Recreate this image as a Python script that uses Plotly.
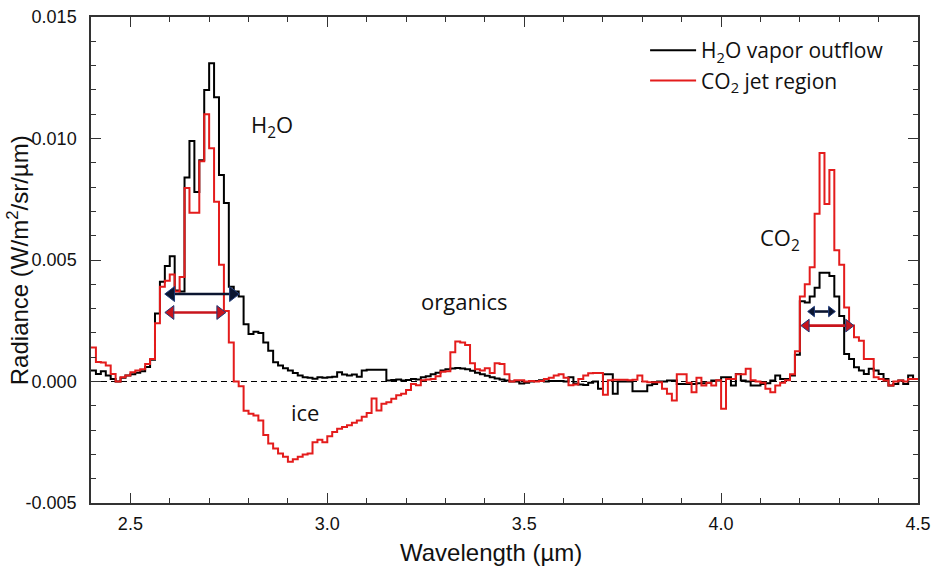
import plotly.graph_objects as go

# Channel grid (µm)
wavelength_start = 2.40
channel_width = 0.0125
n_channels = 168

# Radiance in units of 1e-3 W/m^2/sr/µm, one value per channel
h2o_outflow_milli = [
    0.45, 0.31, 0.42, 0.25, 0.10, 0.00, 0.15, 0.25, 0.30, 0.36,
    0.42, 0.60, 0.90, 2.80, 4.10, 4.75, 5.15, 3.75, 3.70, 8.40,
    9.90, 7.80, 9.10, 12.0, 13.1, 11.7, 8.50, 7.35, 3.90, 3.70,
    3.50, 2.36, 1.95, 2.05, 2.00, 1.61, 1.27, 0.79, 0.66, 0.55,
    0.45, 0.35, 0.25, 0.18, 0.15, 0.11, 0.18, 0.15, 0.18, 0.20,
    0.38, 0.29, 0.25, 0.29, 0.20, 0.45, 0.48, 0.48, 0.48, 0.48,
    0.04, 0.06, 0.08, 0.04, 0.06, 0.10, 0.08, 0.18, 0.22, 0.30,
    0.36, 0.45, 0.50, 0.54, 0.56, 0.54, 0.50, 0.44, 0.36, 0.30,
    0.24, 0.18, 0.12, 0.08, 0.04, 0.00, 0.00, -0.08, -0.05, 0.00,
    0.02, 0.05, 0.00, 0.02, 0.02, 0.02, 0.00, 0.18, -0.08, -0.12,
    -0.14, -0.05, 0.00, -0.30, 0.30, 0.30, -0.50, 0.00, 0.00, 0.00,
    -0.40, -0.40, -0.40, -0.15, -0.10, 0.00, 0.00, 0.04, 0.04, -0.10,
    -0.10, -0.10, -0.10, -0.07, -0.07, -0.05, 0.04, 0.04, 0.18, 0.18,
    -0.16, 0.31, 0.04, 0.00, -0.16, -0.16, -0.10, -0.07, 0.04, 0.25,
    0.10, 0.10, 0.25, 1.10, 3.30, 3.25, 3.50, 3.86, 4.48, 4.48,
    4.34, 3.50, 2.70, 1.13, 0.93, 0.59, 0.45, 0.31, 0.52, 0.45,
    0.31, 0.10, -0.16, -0.10, 0.04, -0.10, 0.25, 0.10,
]

co2_jet_milli = [
    1.40, 0.80, 0.78, 0.66, 0.31, 0.00, 0.18, 0.25, 0.38, 0.45,
    0.50, 0.72, 0.93, 2.40, 3.90, 4.15, 4.40, 3.70, 4.30, 7.96,
    6.94, 6.94, 9.06, 11.0, 9.60, 7.40, 4.80, 2.90, 1.60, 0.00,
    -0.20, -1.20, -1.33, -1.40, -1.60, -2.20, -2.55, -2.76, -2.96, -3.10,
    -3.30, -3.20, -3.10, -3.00, -2.96, -2.50, -2.40, -2.50, -2.25, -2.08,
    -1.94, -1.87, -1.80, -1.70, -1.60, -1.45, -1.30, -0.70, -1.19, -0.92,
    -0.85, -0.71, -0.57, -0.50, -0.35, -0.10, -0.15, 0.05, 0.08, 0.10,
    0.22, 0.40, 0.42, 1.20, 1.65, 1.60, 1.50, 0.75, 0.50, 0.45,
    0.55, 0.35, 0.75, 0.72, 0.30, 0.00, 0.05, 0.05, 0.00, 0.02,
    0.00, 0.02, 0.10, 0.15, 0.25, 0.30, 0.15, -0.15, -0.12, 0.10,
    0.25, 0.34, 0.35, 0.35, -0.55, 0.05, 0.07, 0.07, 0.07, 0.05,
    0.07, 0.25, 0.00, -0.03, -0.03, -0.03, -0.30, -0.50, -0.78, 0.30,
    0.30, -0.05, -0.44, 0.15, -0.16, -0.05, -0.16, 0.05, -1.12, 0.10,
    0.10, 0.30, 0.30, 0.52, 0.05, 0.00, -0.05, -0.30, -0.44, -0.16,
    -0.05, 0.05, 0.30, 1.25, 3.50, 4.00, 4.70, 6.90, 9.40, 7.30,
    8.70, 5.40, 4.80, 3.05, 2.30, 1.82, 1.68, 0.93, 0.93, 0.18,
    0.10, 0.04, -0.16, 0.00, 0.04, 0.00, 0.10, 0.10,
]

series_names = ["H<sub>2</sub>O vapor outflow", "CO<sub>2</sub> jet region"]
series_colors = ["#000000", "#e41c1c"]

x_tickvals = [2.5, 3.0, 3.5, 4.0, 4.5]
x_ticktext = ["2.5", "3.0", "3.5", "4.0", "4.5"]
y_tickvals = [-0.005, 0.0, 0.005, 0.010, 0.015]
y_ticktext = ["-0.005", "0.000", "0.005", "0.010", "0.015"]

x_title = "Wavelength (µm)"
y_title = "Radiance (W/m<sup>2</sup>/sr/µm)"

# channel edges
edges = [round(wavelength_start + i * channel_width, 5) for i in range(n_channels + 1)]

def to_radiance(vals):
    v = [x * 1e-3 for x in vals]
    return v + [v[-1]]

fig = go.Figure()
for name, color, vals in [
    (series_names[0], series_colors[0], h2o_outflow_milli),
    (series_names[1], series_colors[1], co2_jet_milli),
]:
    fig.add_trace(go.Scatter(
        x=edges, y=to_radiance(vals), mode="lines", name=name,
        line=dict(color=color, width=2, shape="hv"),
    ))

fig.add_hline(y=0, line=dict(color="black", width=1, dash="6px,4px"), layer="below")

# double-headed width arrows: (start, end, level, colour, head size)
arrows = [
    (2.589, 2.775, 0.0036, "#0b1530", 13),
    (2.589, 2.741, 0.00284, "#c8141c", 12),
    (4.221, 4.289, 0.00288, "#0b1530", 9),
    (4.204, 4.336, 0.0023, "#c8141c", 11),
]
for x0, x1, yy, col, hs in arrows:
    inset = hs * 0.45 / 394.0
    fig.add_trace(go.Scatter(
        x=[x0 + inset * 0.6, x1 - inset * 0.6], y=[yy, yy], mode="lines",
        line=dict(color=col, width=2.6), showlegend=False, hoverinfo="skip",
    ))
    fig.add_trace(go.Scatter(
        x=[x0 + inset, x1 - inset], y=[yy, yy], mode="markers",
        marker=dict(symbol=["triangle-left", "triangle-right"], size=hs, color=col,
                    line=dict(color="#1f3a78", width=1)),
        showlegend=False, hoverinfo="skip",
    ))

labels = [
    ("H<sub>2</sub>O", 2.86, 0.0105),
    ("organics", 3.347, 0.0033),
    ("ice", 2.943, -0.00125),
    ("CO<sub>2</sub>", 4.15, 0.00585),
]
for t, lx, ly in labels:
    fig.add_annotation(x=lx, y=ly, xref="x", yref="y", text=t, showarrow=False,
                       font=dict(family="Open Sans", size=22, color="#111111"))

# axis titles as paper annotations
fig.add_annotation(x=0.4837, y=-0.101, xref="paper", yref="paper", text=x_title,
                   showarrow=False, xanchor="center", yanchor="middle",
                   font=dict(family="Liberation Sans", size=24, color="#111111"))
fig.add_annotation(x=-0.088, y=0.50, xref="paper", yref="paper", text=y_title,
                   showarrow=False, xanchor="center", yanchor="middle", textangle=-90,
                   font=dict(family="Liberation Sans", size=24, color="#111111"))

axis_common = dict(
    showline=True, linecolor="#333333", linewidth=1.5, mirror="ticks",
    ticks="inside", tickcolor="#333333", tickwidth=1.3, showgrid=False,
    zeroline=False, automargin=False,
    tickfont=dict(family="Liberation Sans", size=18, color="#111111"),
)

fig.update_xaxes(
    range=[2.4, 4.5], tickvals=x_tickvals, ticktext=x_ticktext, ticklen=10,
    ticklabelstandoff=4,
    minor=dict(dtick=0.1, tick0=2.4, ticks="inside", ticklen=5, tickcolor="#333333"),
    **axis_common,
)
fig.update_yaxes(
    range=[-0.005, 0.015], tickvals=y_tickvals, ticktext=y_ticktext, ticklen=10,
    ticklabelstandoff=9,
    minor=dict(dtick=0.001, tick0=0, ticks="inside", ticklen=5, tickcolor="#333333"),
    **axis_common,
)

fig.update_layout(
    width=933, height=569,
    margin=dict(l=91, r=15, t=17, b=66),
    paper_bgcolor="white", plot_bgcolor="white",
    showlegend=True,
    legend=dict(x=0.67, y=0.973, xanchor="left", yanchor="top", itemwidth=46,
                bgcolor="rgba(0,0,0,0)", font=dict(family="Open Sans", size=21, color="#111111"),
                tracegroupgap=0),
)

fig.write_html("out.html", config={"displayModeBar": False},
               post_script="document.body.style.margin='0px';document.body.style.overflow='hidden';")
